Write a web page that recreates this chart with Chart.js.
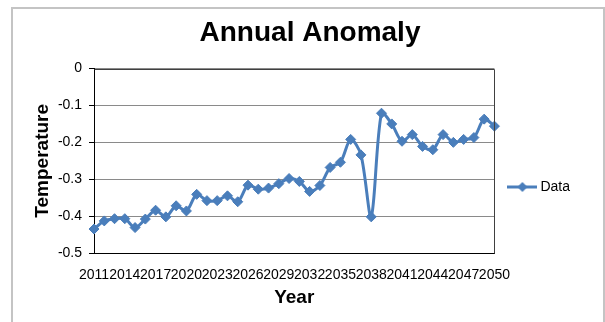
<!DOCTYPE html>
<html>
<head>
<meta charset="utf-8">
<script src="https://cdn.jsdelivr.net/npm/chart.js"></script>
<style>
  body { margin: 0; background: #fff; }
  #wrap { width: 605px; height: 322px; }
</style>
</head>
<body>
<div id="wrap"><canvas id="anomalyChart" width="605" height="322"></canvas></div>
<script>
// 데이터
const years = ['2011', '2012', '2013', '2014', '2015', '2016', '2017', '2018', '2019', '2020',
               '2021', '2022', '2023', '2024', '2025', '2026', '2027', '2028', '2029', '2030',
               '2031', '2032', '2033', '2034', '2035', '2036', '2037', '2038', '2039', '2040',
               '2041', '2042', '2043', '2044', '2045', '2046', '2047', '2048', '2049', '2050'];
const anomaly = [-0.435, -0.413, -0.407, -0.407, -0.431, -0.408, -0.384, -0.402, -0.372, -0.386,
                 -0.341, -0.358, -0.358, -0.345, -0.361, -0.316, -0.327, -0.324, -0.312, -0.298,
                 -0.306, -0.333, -0.317, -0.268, -0.254, -0.192, -0.234, -0.402, -0.121, -0.150,
                 -0.197, -0.179, -0.211, -0.220, -0.179, -0.200, -0.192, -0.187, -0.137, -0.156];
const xTickLabels = ['2011', '2014', '2017', '2020', '2023', '2026', '2029',
                     '2032', '2035', '2038', '2041', '2044', '2047', '2050'];
const seriesName = 'Data';

const lineColor = '#4a7ebb';

// 범례 아이콘 (선 + 마름모)
const legendIcon = document.createElement('canvas');
legendIcon.width = 30;
legendIcon.height = 12;
(function () {
    const c = legendIcon.getContext('2d');
    c.strokeStyle = lineColor;
    c.lineWidth = 3;
    c.beginPath();
    c.moveTo(0, 6);
    c.lineTo(30, 6);
    c.stroke();
    c.fillStyle = lineColor;
    c.beginPath();
    c.moveTo(15, 1);
    c.lineTo(20, 6);
    c.lineTo(15, 11);
    c.lineTo(10, 6);
    c.closePath();
    c.fill();
})();

// 바깥 테두리 + 플롯 영역 테두리
const framePlugin = {
    id: 'frame',
    beforeDraw(chart) {
        const ctx = chart.ctx;
        ctx.save();
        ctx.fillStyle = '#fff';
        ctx.fillRect(0, 0, chart.width, chart.height);
        ctx.strokeStyle = '#c4c4c4';
        ctx.lineWidth = 2;
        ctx.strokeRect(12, 8, 592, 330);
        ctx.restore();
    },
    afterDatasetsDraw(chart) {
        const a = chart.chartArea;
        const ctx = chart.ctx;
        ctx.save();
        ctx.strokeStyle = '#404040';
        ctx.lineWidth = 1;
        ctx.beginPath();
        ctx.moveTo(Math.round(a.left) + 0.5, Math.round(a.top) + 0.5);
        ctx.lineTo(Math.round(a.right) + 0.5, Math.round(a.top) + 0.5);
        ctx.lineTo(Math.round(a.right) + 0.5, Math.round(a.bottom) + 0.5);
        ctx.stroke();
        ctx.restore();
    }
};

const ctx = document.getElementById('anomalyChart').getContext('2d');
new Chart(ctx, {
    type: 'line',
    data: {
        labels: years,
        datasets: [{
            label: seriesName,
            data: anomaly,
            borderColor: lineColor,
            backgroundColor: lineColor,
            borderWidth: 3,
            tension: 0.3,
            pointStyle: 'rectRot',
            pointRadius: 5,
            pointHoverRadius: 5,
            pointBackgroundColor: lineColor,
            pointBorderColor: lineColor,
            pointBorderWidth: 1,
            clip: false
        }]
    },
    options: {
        responsive: false,
        animation: false,
        layout: { padding: { left: 40, right: 25, top: 0, bottom: 0 } },
        plugins: {
            title: {
                display: true,
                text: 'Annual Anomaly',
                color: '#000',
                font: { family: 'Liberation Sans, Arial, sans-serif', size: 28, weight: 'bold' },
                padding: { top: 16, bottom: 19 }
            },
            legend: {
                position: 'right',
                title: { display: true, text: '', font: { size: 30 }, padding: { top: 16, bottom: 0 } },
                labels: {
                    color: '#000',
                    font: { family: 'Liberation Sans, Arial, sans-serif', size: 14 },
                    usePointStyle: true,
                    pointStyleWidth: 22,
                    padding: 17,
                    generateLabels(chart) {
                        return Chart.defaults.plugins.legend.labels.generateLabels(chart).map(l => {
                            l.pointStyle = legendIcon;
                            return l;
                        });
                    }
                }
            },
            tooltip: { enabled: false }
        },
        scales: {
            x: {
                offset: false,
                grid: { display: false },
                border: { display: true, color: '#000', width: 1 },
                ticks: {
                    autoSkip: false,
                    maxRotation: 0,
                    padding: 6,
                    color: '#000',
                    font: { family: 'Liberation Sans, Arial, sans-serif', size: 14 },
                    callback: function (value) {
                        const lbl = this.getLabelForValue(value);
                        return xTickLabels.includes(lbl) ? lbl : '';
                    }
                },
                title: {
                    display: true,
                    text: 'Year',
                    color: '#000',
                    font: { family: 'Liberation Sans, Arial, sans-serif', size: 19, weight: 'bold' },
                    padding: { top: 0, bottom: 13 }
                },
                afterFit(scale) { scale.height = 69; }
            },
            y: {
                min: -0.5,
                max: 0,
                grid: { color: '#8a8a8a', tickColor: '#000', tickLength: 5, drawTicks: true },
                border: { display: true, color: '#000', width: 1 },
                ticks: {
                    stepSize: 0.1,
                    padding: 7,
                    color: '#000',
                    font: { family: 'Liberation Sans, Arial, sans-serif', size: 14 },
                    callback: v => (Math.abs(v) < 1e-9 ? '0' : v.toFixed(1))
                },
                title: {
                    display: true,
                    text: 'Temperature',
                    color: '#000',
                    font: { family: 'Liberation Sans, Arial, sans-serif', size: 19, weight: 'bold' },
                    padding: { top: -9, bottom: 0 }
                },
                afterFit(scale) { scale.width = 54; }
            }
        }
    },
    plugins: [framePlugin]
});
</script>
</body>
</html>
